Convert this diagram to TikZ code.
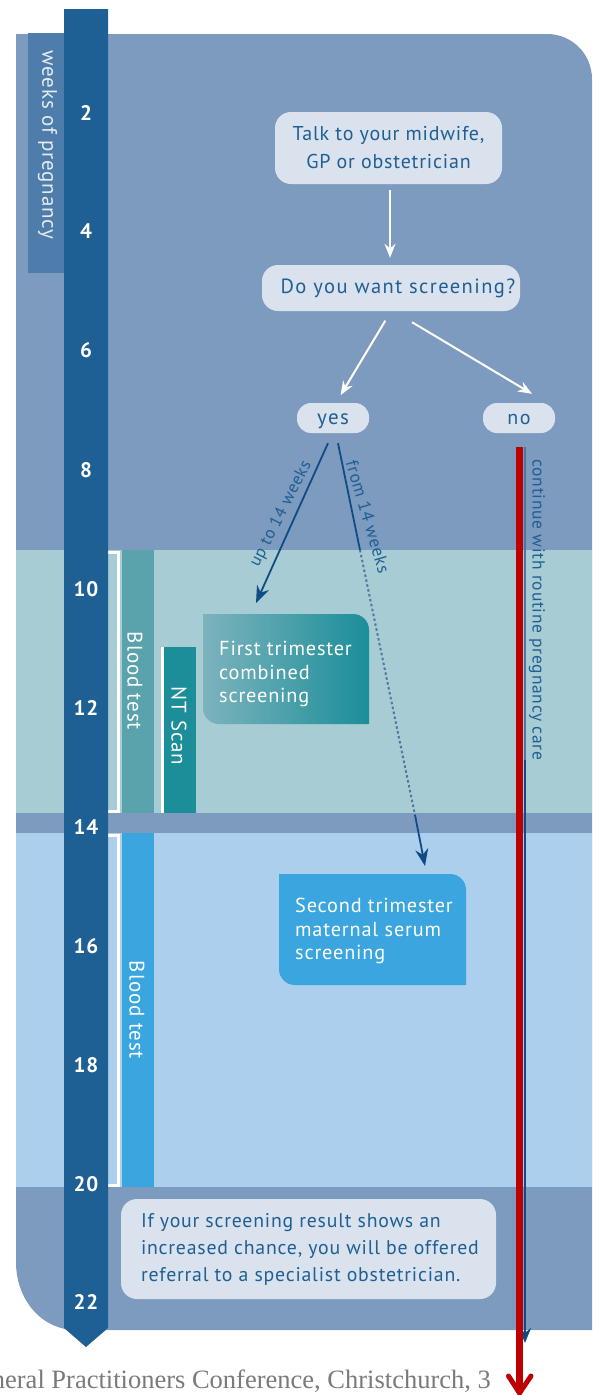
\documentclass[tikz,border=0pt]{standalone}
\usepackage{fontspec}
\setmainfont[LetterSpace=4]{PT Sans}
\newfontfamily\wideface[LetterSpace=7]{PT Sans}
\newfontfamily\footfont{Liberation Serif}
\usetikzlibrary{arrows.meta,calc}
\definecolor{bandTop}{HTML}{7D9ABF}
\definecolor{bandTeal}{HTML}{A8CCD3}
\definecolor{bandBlue}{HTML}{ABCFEC}
\definecolor{spine}{HTML}{1E6093}
\definecolor{weeksBg}{HTML}{4F7DAB}
\definecolor{paleBox}{HTML}{DAE2EE}
\definecolor{inkBlue}{HTML}{1F5F93}
\definecolor{arrowBlue}{HTML}{0F4C84}
\definecolor{tealA}{HTML}{5BA3AC}
\definecolor{tealB}{HTML}{1B8E99}
\definecolor{tealC}{HTML}{7CB3BD}
\definecolor{skyBox}{HTML}{3AA5DF}
\definecolor{redLine}{HTML}{BE0000}
\definecolor{footGray}{HTML}{7A7A7A}
\tikzset{
  pill/.style={fill=paleBox,text=inkBlue,rounded corners=#1,inner sep=0pt,align=center,font=\fontsize{20}{28}\selectfont},
  pill/.default=14,
  weeknum/.style={text=white,font=\bfseries\fontsize{21}{21}\selectfont,inner sep=0pt},
  sidelabel/.style={text=white,rotate=-90,font=\fontsize{21}{21}\selectfont,inner sep=0pt},
  boxtext/.style={text=white,align=left,anchor=north west,inner sep=0pt,font=\fontsize{20.3}{23.5}\selectfont},
  arrowlabel/.style={text=inkBlue,font=\fontsize{17.5}{18}\selectfont,inner sep=0pt},
  whitearrow/.style={draw=white,line width=2pt,-{Stealth[length=14pt,width=11pt]}},
  bluearrow/.style={draw=arrowBlue,line width=1.8pt,-{Stealth[length=17pt,width=13pt]}},
  bluetrunk/.style={draw=arrowBlue,line width=1.8pt},
  bracket/.style={draw=white,line width=3pt,line join=miter}
}
\begin{document}
\begin{tikzpicture}[x=1pt,y=-1pt]
\useasboundingbox (0,0) rectangle (592,1395);
% main panel
\fill[bandTop] (16,34) -- (547,34) .. controls (572,34) and (592,54) .. (592,79)
  -- (592,1330) -- (76,1330) .. controls (42,1330) and (16,1300) .. (16,1262) -- cycle;
\fill[bandTeal] (16,550) rectangle (592,813);
\fill[bandBlue] (16,833) rectangle (592,1187);
% week label
\fill[weeksBg] (28,33) rectangle (64,273);
\node[sidelabel,opacity=.85] (weeks) at (47.5,145) {weeks of pregnancy};
% side bars
\draw[bracket] (108,552) -- (118,552) -- (118,811.5) -- (108,811.5);
\fill[tealA] (122,550) rectangle (154,813);
\node[sidelabel] (blood1) at (135,681) {Blood test};
\draw[draw=white,line width=3pt] (162,647) -- (162,813);
\fill[tealB] (164,647) rectangle (196,813);
\node[sidelabel] (nt) at (179,726) {NT Scan};
\draw[bracket] (108,835.5) -- (118,835.5) -- (118,1185.5) -- (108,1185.5);
\fill[skyBox] (122,833) rectangle (154,1187);
\node[sidelabel] (blood2) at (137,1010) {Blood test};
% spine
\fill[spine] (64,9) -- (108,9) -- (108,1328) -- (86,1347) -- (64,1328) -- cycle;
\foreach \n/\yy in {2/113,4/231,6/350,8/470,10/589,12/708,14/827,16/946,18/1065,20/1184,22/1302}
  \node[weeknum] (w\n) at (86,\yy) {\n};
% flow boxes
\node[pill=16,minimum width=227pt,minimum height=72pt] (talk) at (388.5,148) {Talk to your midwife,\\[0pt]GP or obstetrician};
\node[pill=16,minimum width=258pt,minimum height=46pt,font=\wideface\fontsize{20.5}{24}\selectfont] (want) at (391,288) {\hspace*{14pt}Do you want screening?};
\node[pill=14,minimum width=72pt,minimum height=30pt,font=\wideface\fontsize{21}{21}\selectfont] (yes) at (333,418) {\raisebox{-6pt}[0pt][0pt]{yes}};
\node[pill=14,minimum width=72pt,minimum height=30pt,font=\wideface\fontsize{20}{20}\selectfont] (no) at (519,418) {\raisebox{-6pt}[0pt][0pt]{no}};
% first trimester
\shade[left color=tealC,right color=tealB] (203,614) -- (353,614) .. controls (362,614) and (369,621) .. (369,630)
  -- (369,724) -- (219,724) .. controls (210,724) and (203,717) .. (203,708) -- cycle;
\node[boxtext] (first) at (219,641) {First trimester\\combined\\screening};
% second trimester
\fill[skyBox] (279,874) -- (450,874) .. controls (459,874) and (466,881) .. (466,890)
  -- (466,985) -- (295,985) .. controls (286,985) and (279,978) .. (279,969) -- cycle;
\node[boxtext] (second) at (295,898) {Second trimester\\maternal serum\\screening};
% result
\node[pill=16,minimum width=375pt,minimum height=100pt,align=left,font=\fontsize{19.8}{27}\selectfont] (result) at (308.5,1249)
  {\makebox[335pt][l]{If your screening result shows an}\\\makebox[335pt][l]{increased chance, you will be offered}\\\makebox[335pt][l]{referral to a specialist obstetrician.}};
% coordinates for free ends and the dotted stretch
\coordinate (fromA) at (360,550);
\coordinate (fromB) at (415,815);
\coordinate (contEnd) at (525,1343);
\coordinate (contTop) at (525,447);
\coordinate (redTop) at (519.5,447);
\coordinate (redEnd) at (519.5,1393);
% connectors
\draw[whitearrow] ($(talk.south)+(1.5,6)$) -- ($(want.north)+(-1,-7)$);
\draw[whitearrow,shorten <=11pt,shorten >=9pt] (want.south) -- ($(yes.north)+(3,0)$);
\draw[whitearrow] ($(want.south)+(21,11)$) -- ($(no.north)+(13,-9)$);
\draw[bluearrow] ($(yes.south)+(-5,10)$) -- (256,603);
\draw[bluetrunk] ($(yes.south)+(5,10)$) -- (fromA);
\draw[draw=arrowBlue!75,line width=2pt,dash pattern=on 2.5pt off 2.5pt] (fromA) -- (fromB);
\draw[bluearrow] (fromB) -- (425,866);
\draw[draw=bandTop!55!arrowBlue,line width=2.2pt] (contTop) -- (525,760);
\draw[draw=arrowBlue,line width=2.2pt,-{Stealth[length=15pt,width=12pt]}] (525,760) -- (contEnd);
\draw[redLine,line width=7pt] (redTop) -- (redEnd);
\draw[redLine,line width=5pt,line cap=round,line join=miter] (508.5,1376) -- (redEnd) -- (531,1376);
% labels
\node[arrowlabel,rotate=63,font=\fontsize{17}{18}\selectfont] (uplabel) at (281,514) {up to 14 weeks};
\node[arrowlabel,rotate=-73.5,font=\fontsize{17.5}{18}\selectfont] (fromlabel) at (368,517) {from 14 weeks};
\node[arrowlabel,rotate=-90] (contlabel) at (537,610) {continue with routine pregnancy care};
\node[anchor=east,inner sep=0pt,text=footGray,font=\footfont\fontsize{26.5}{26}\selectfont] (foot) at (491,1381) {neral Practitioners Conference, Christchurch, 3};
\end{tikzpicture}
\end{document}
